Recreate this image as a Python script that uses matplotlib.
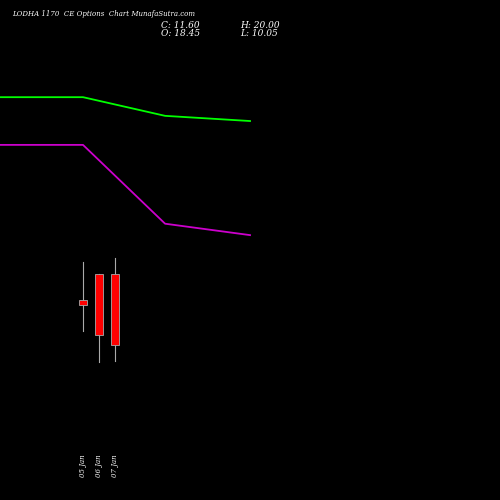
import matplotlib
matplotlib.use("Agg")
import matplotlib.pyplot as plt

dates = ["05 Jan", "06 Jan", "07 Jan"]
opens = [15.94, 18.45, 18.45]
closes = [15.46, 12.57, 11.60]
highs = [19.61, 18.45, 20.00]
lows = [12.95, 9.96, 10.05]
line_x = [-5.19, 0, 5.13, 10.44]
green_vals = [35.5, 35.5, 33.7, 33.2]
magenta_vals = [30.9, 30.9, 23.3, 22.2]

fig = plt.figure(figsize=(5, 5), dpi=100, facecolor="black")
ax = fig.add_axes([0, 0, 1, 1], facecolor="black")
ax.set_xlim(-5.1875, 26.06)
ax.set_ylim(-3.34, 44.87)
ax.axis("off")

ax.plot(line_x, green_vals, color="#00ff00", lw=1.3)
ax.plot(line_x, magenta_vals, color="#cc00cc", lw=1.3)

for i, (o, c, h, l) in enumerate(zip(opens, closes, highs, lows)):
    ax.plot([i, i], [l, h], color="#aaaaaa", lw=0.8, zorder=2)
    ax.bar(i, abs(o - c), bottom=min(o, c), width=0.55, color="red",
           edgecolor="#aaaaaa", linewidth=0.6, zorder=3)
    ax.text(i, 0.0, dates[i], rotation=90, color="white", fontsize=5,
            family="DejaVu Serif", style="italic", ha="center", va="center")

fig.text(0.024, 0.972, "LODHA 1170  CE Options  Chart MunafaSutra.com", color="white",
         fontsize=5, family="DejaVu Serif", style="italic", va="center")
kw = dict(color="white", fontsize=6.5, family="DejaVu Serif", style="italic", va="center")
fig.text(0.322, 0.950, "C: 11.60", **kw)
fig.text(0.322, 0.934, "O: 18.45", **kw)
fig.text(0.48, 0.950, "H: 20.00", **kw)
fig.text(0.48, 0.934, "L: 10.05", **kw)

fig.savefig("out.png", dpi=100, facecolor="black")
